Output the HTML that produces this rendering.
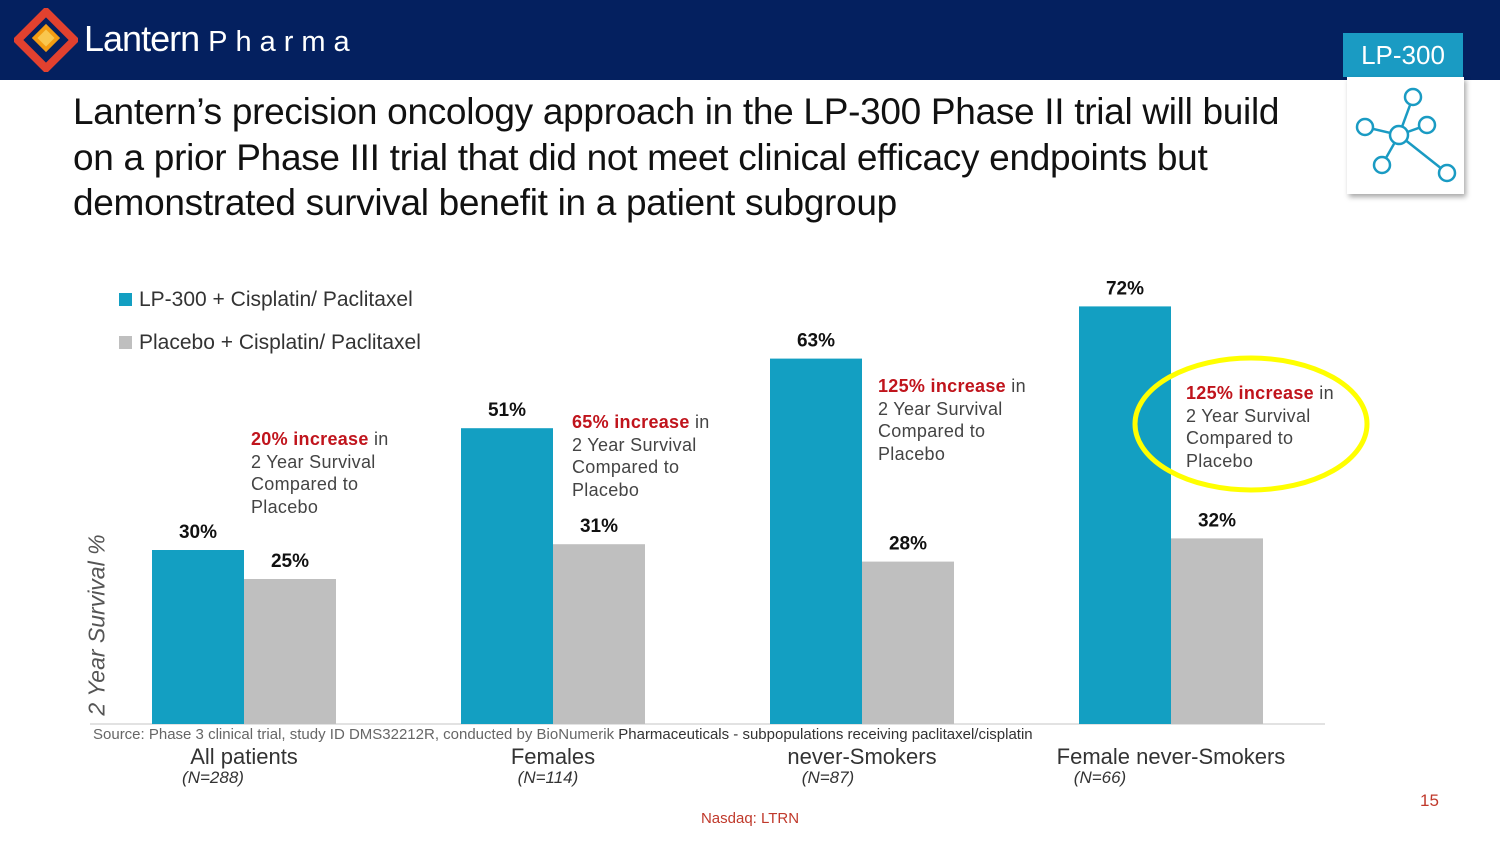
<!DOCTYPE html>
<html><head><meta charset="utf-8"><style>
body{margin:0;width:1500px;height:843px;position:relative;overflow:hidden;background:#fff;font-family:"Liberation Sans",sans-serif}
.abs{position:absolute}
.ann{position:absolute;font-size:18px;line-height:22.5px;color:#444;letter-spacing:0.3px}
.ann b{color:#c0141c;font-weight:bold}
</style></head><body>
<div class="abs" style="left:0;top:0;width:1500px;height:80px;background:#04205f"></div>
<svg class="abs" style="left:14px;top:8px" width="64" height="64" viewBox="0 0 64 64">
<rect x="12" y="12" width="40" height="40" transform="rotate(45 32 32)" fill="none" stroke="#e2412f" stroke-width="8"/>
<rect x="22" y="20" width="20" height="20" transform="rotate(45 32 30)" fill="#f39c12"/>
<rect x="26" y="24" width="12" height="12" transform="rotate(45 32 30)" fill="#f9c74f"/>
</svg>
<div class="abs" style="left:84px;top:18px;color:#fff;font-size:36px;letter-spacing:-1px;">Lantern <span style="font-size:29px;letter-spacing:8px;">Pharma</span></div>
<div class="abs" style="left:1343px;top:33px;width:120px;height:44px;background:#1a9bc3;color:#fff;font-size:26px;line-height:44px;text-align:center">LP-300</div>
<div class="abs" style="left:1347px;top:77px;width:117px;height:117px;background:#fff;box-shadow:2px 3px 5px rgba(0,0,0,0.35)">
<svg width="117" height="117" viewBox="0 0 117 117" fill="none" stroke="#1a9bc3" stroke-width="2.5">
<line x1="52" y1="58" x2="66" y2="20"/><line x1="52" y1="58" x2="18" y2="50"/><line x1="52" y1="58" x2="35" y2="88"/><line x1="52" y1="58" x2="100" y2="96"/><line x1="52" y1="58" x2="80" y2="48"/>
<circle cx="66" cy="20" r="8" fill="#fff"/><circle cx="18" cy="50" r="8" fill="#fff"/><circle cx="35" cy="88" r="8" fill="#fff"/><circle cx="100" cy="96" r="8" fill="#fff"/><circle cx="80" cy="48" r="8" fill="#fff"/><circle cx="52" cy="58" r="9" fill="#fff"/>
</svg></div>
<div class="abs" style="left:73px;top:89px;width:1245px;font-size:37px;line-height:45.5px;color:#111;letter-spacing:-0.3px">Lantern’s precision oncology approach in the LP-300 Phase II trial will build on a prior Phase III trial that did not meet clinical efficacy endpoints but demonstrated survival benefit in a patient subgroup</div>

<svg class="abs" id="chart" style="left:0;top:0" width="1500" height="843"></svg>

<div class="abs" style="left:119px;top:288px;font-size:21px;color:#333"><span style="display:inline-block;width:13px;height:13px;background:#139fc2;margin-right:7px"></span>LP-300 + Cisplatin/ Paclitaxel</div>
<div class="abs" style="left:119px;top:331px;font-size:21px;color:#333"><span style="display:inline-block;width:13px;height:13px;background:#bfbfbf;margin-right:7px"></span>Placebo + Cisplatin/ Paclitaxel</div>

<div class="ann" style="left:251px;top:428px"><b>20% increase</b> in<br>2 Year Survival<br>Compared to<br>Placebo</div>
<div class="ann" style="left:572px;top:411px"><b>65% increase</b> in<br>2 Year Survival<br>Compared to<br>Placebo</div>
<div class="ann" style="left:878px;top:375px"><b>125% increase</b> in<br>2 Year Survival<br>Compared to<br>Placebo</div>
<div class="ann" style="left:1186px;top:382px"><b>125% increase</b> in<br>2 Year Survival<br>Compared to<br>Placebo</div>

<div class="abs" style="left:93px;top:726px;font-size:15px;color:#666">Source: Phase 3 clinical trial, study ID DMS32212R, conducted by BioNumerik <span style="color:#333">Pharmaceuticals - subpopulations receiving paclitaxel/cisplatin</span></div>
<div class="abs" style="left:97px;top:625px;transform:translate(-50%,-50%) rotate(-90deg);font-size:23px;font-style:italic;color:#555;white-space:nowrap">2 Year Survival %</div>
<div class="abs" style="left:0;width:1500px;top:810px;text-align:center;font-size:15px;color:#c0392b">Nasdaq: LTRN</div>
<div class="abs" style="left:1420px;top:791px;font-size:17px;color:#c0392b">15</div>

<script>
const categories=["All patients","Females","never-Smokers","Female never-Smokers"];
const nLabels=["(N=288)","(N=114)","(N=87)","(N=66)"];
const lpValues=[30,51,63,72];
const placeboValues=[25,31,28,32];
const svg=document.getElementById('chart');
const NS='http://www.w3.org/2000/svg';
const base=724,pxPer=5.8,x0=152,gap=309,bw=92;
const nOff=[61,87,58,21];
const y=v=>base-v*pxPer;
const gx=i=>x0+i*gap;
function mk(t,a){const e=document.createElementNS(NS,t);for(const k in a)e.setAttribute(k,a[k]);svg.appendChild(e);return e;}
const ax=mk('line',{x1:90,x2:1325,y1:base,y2:base,stroke:'#d9d9d9','stroke-width':1.5});


categories.forEach((c,i)=>{
  [[lpValues[i],'#139fc2',0,'lp300'],[placeboValues[i],'#bfbfbf',bw,'placebo']].forEach(([v,col,off,s])=>{
    const r=mk('rect',{x:gx(i)+off,y:y(v),width:bw,height:v*pxPer,fill:col});
    
    
    const t=mk('text',{x:gx(i)+off+bw/2,y:y(v)-12,'text-anchor':'middle','font-size':19,'font-weight':'bold',fill:'#111'});
    t.textContent=v+'%';
    
    
  });
  const cl=mk('text',{x:gx(i)+bw,y:764,'text-anchor':'middle','font-size':22,fill:'#333'});
  cl.textContent=c;
  
  
  const nl=mk('text',{x:gx(i)+nOff[i],y:783,'text-anchor':'middle','font-size':17,'font-style':'italic',fill:'#333'});
  nl.textContent=nLabels[i];
  
  
});
const el=mk('ellipse',{cx:1251,cy:424,rx:116,ry:66,fill:'none',stroke:'#ffff00','stroke-width':5});


</script>
</body></html>
